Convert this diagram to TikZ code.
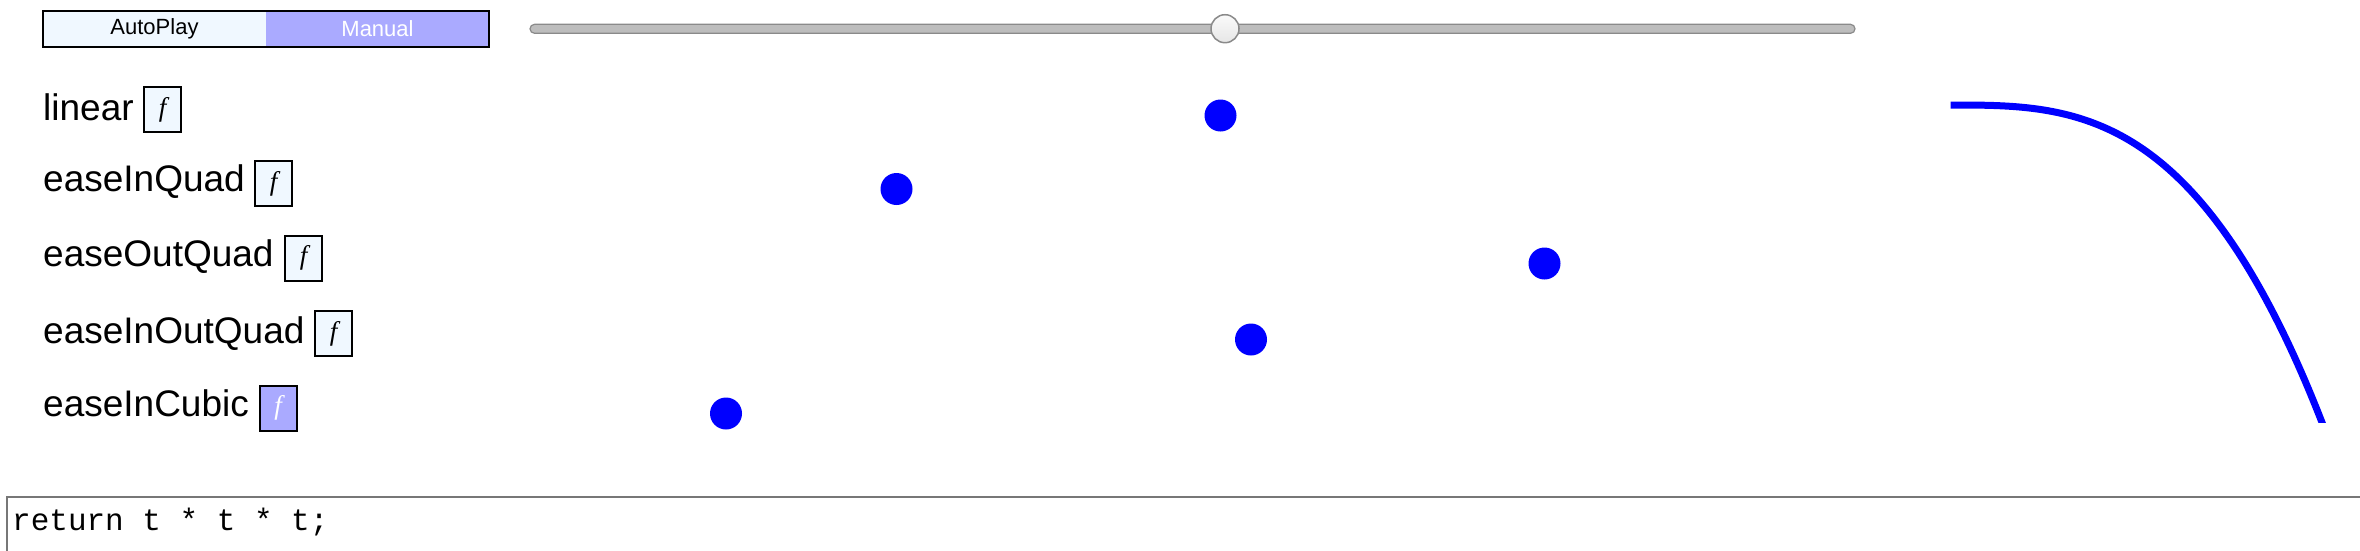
\documentclass[tikz,border=0pt]{standalone}
\usepackage{fontspec}
\usetikzlibrary{shapes.geometric}
\setmainfont{Liberation Sans}
\newfontfamily\fserif{Liberation Serif}
\newfontfamily\fmono{Liberation Mono}
\definecolor{alice}{HTML}{F0F8FF}
\definecolor{manualc}{HTML}{AAAAFF}
\definecolor{dotblue}{HTML}{0000FF}
\definecolor{trackfill}{HTML}{BDBDBD}
\definecolor{trackline}{HTML}{8A8A8A}
\definecolor{knobtop}{HTML}{FAFAFA}
\definecolor{knobbot}{HTML}{E6E6E6}
\definecolor{codeline}{HTML}{777777}
\begin{document}
\begin{tikzpicture}[x=1pt,y=-1pt,
  btn/.style={inner sep=0pt, minimum width=223pt, minimum height=36pt, font=\fontsize{22}{24}\selectfont},
  lbl/.style={anchor=base west, inner sep=0pt, font=\fontsize{37}{40}\selectfont},
  fbox/.style={draw, line width=2pt, fill=alice, minimum width=37pt, minimum height=45pt, inner sep=0pt, font=\fserif\itshape\fontsize{27}{27}\selectfont},
  dot/.style={circle, fill=dotblue, minimum size=32pt, inner sep=0pt},
]
\useasboundingbox (0,0) rectangle (2360,550);
% mode buttons
\node[btn, fill=alice] (auto) at (154.5,29) {AutoPlay};
\node[btn, fill=manualc, text=white] (manual) at (377.5,29) {Manual};
\draw[line width=2.5pt] (auto.north west) rectangle (manual.south east);
% slider
\node[draw=trackline, fill=trackfill, line width=1.2pt, rounded corners=4.5pt, minimum width=1325pt, minimum height=9pt, inner sep=0pt] (track) at (1192.5,28.8) {};
\node[circle, draw=trackline, top color=knobtop, bottom color=knobbot, line width=1.5pt, minimum size=28pt, inner sep=0pt] (knob) at (1225,28.7) {};
% labels
\node[lbl] (l1) at (43,120.5) {linear};
\node[lbl] (l2) at (43,191.5) {easeInQuad};
\node[lbl] (l3) at (43,266.7) {easeOutQuad};
\node[lbl] (l4) at (43,343.3) {easeInOutQuad};
\node[lbl] (l5) at (43,416.7) {easeInCubic};
\node[fbox] (f1) at (162.5,109.5) {f};
\node[fbox] (f2) at (273.5,183.5) {f};
\node[fbox] (f3) at (303.5,258) {f};
\node[fbox] (f4) at (333.5,333.5) {f};
\node[fbox, fill=manualc, text=white] (f5) at (278,408) {f};
% dots
\node[dot] (d1) at (1220.5,115.5) {};
\node[dot] (d2) at (896.5,189) {};
\node[dot] (d3) at (1544.5,263.5) {};
\node[dot] (d4) at (1251,339.5) {};
\node[dot] (d5) at (726,413.5) {};
% curve
\begin{scope}
\clip (1900,90) rectangle (2360,422);
\draw[dotblue, line width=7pt] plot[domain=0:1.04, samples=100, variable=\u] ({1950.7+371*\u},{105+316.7*\u*\u*\u});
\end{scope}
% code box
\node[draw=codeline, line width=2pt, anchor=north west, minimum width=2400pt, minimum height=80pt, inner sep=0pt] (codebox) at (6,496) {};
\node[anchor=base west, inner sep=0pt, font=\fmono\fontsize{31}{31}\selectfont] (code) at (12,530) {return t * t * t;};
\end{tikzpicture}
\end{document}
